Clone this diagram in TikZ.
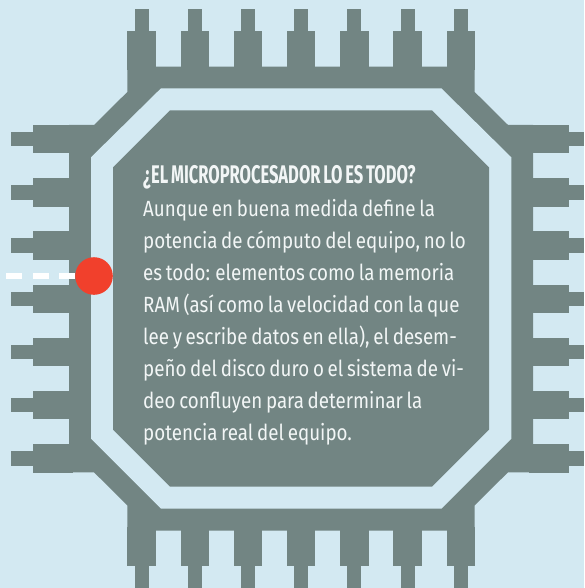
\documentclass[tikz,border=0pt]{standalone}
\usepackage{fontspec}
\setmainfont[FakeStretch=0.853,WordSpace=0.75]{Fira Sans}
\newfontfamily\headfont[FakeStretch=0.648,WordSpace=0.7]{Fira Sans}
\definecolor{bgblue}{HTML}{D3E9F2}
\definecolor{chipgrey}{HTML}{728583}
\definecolor{dotred}{HTML}{F1402C}
\definecolor{txtwhite}{HTML}{F2F6F6}
\tikzset{
  chip/.style={fill=chipgrey,draw=none},
  gap/.style={fill=bgblue,draw=none},
  textline/.style={inner sep=0pt,anchor=north west,align=left,text=txtwhite},
  reddot/.style={circle,fill=dotred,draw=none,minimum size=37.6pt,inner sep=0pt},
  whitedash/.style={draw=white,line width=5.2pt,dash pattern=on 16pt off 10.6pt}
}
\begin{document}
\begin{tikzpicture}[x=1pt,y=-1pt]
\useasboundingbox (0,0) rectangle (584,588);
\fill[bgblue] (0,0) rectangle (584,588);
% body of the package
\path[chip] (127.3,66.7) -- (474.7,66.7) -- (474.7,92) -- (508,125) -- (533,125) -- (533,472.3)
  -- (508,472.3) -- (474.7,505.3) -- (474.7,530.7) -- (127.3,530.7) -- (127.3,505.3)
  -- (94,472.3) -- (69,472.3) -- (69,125) -- (94,125) -- (127.3,92) -- cycle;
% pins
\foreach \i in {0,...,6}{
  \pgfmathsetmacro{\px}{127.3+53.2*\i}
  \pgfmathsetmacro{\py}{125+53.2*\i}
  \path[chip] (\px,31) rectangle ({\px+28.4},70);
  \path[chip] ({\px+7.3},9) rectangle ({\px+21.3},35);
  \path[chip] (\px,527) rectangle ({\px+28.4},566.3);
  \path[chip] ({\px+7.3},562) rectangle ({\px+21.3},588);
  \path[chip] (33.3,\py) rectangle (73,{\py+28.3});
  \path[chip] (11.3,{\py+7}) rectangle (37,{\py+21.3});
  \path[chip] (529,\py) rectangle (568.7,{\py+28.3});
  \path[chip] (565,{\py+7}) rectangle (584,{\py+21.3});
}
% ring
\path[gap] (161,88.3) -- (441.3,88.3) -- (511.3,157.3) -- (511.3,438.7) -- (441.3,508.7)
  -- (161,508.7) -- (91,438.7) -- (91,157.3) -- cycle;
% die
\path[chip] (170,110.3) -- (432,110.3) -- (489,167.3) -- (489,429.7) -- (432,486.7)
  -- (170,486.7) -- (113,429.7) -- (113,167.3) -- cycle;
% marker
\coordinate (dashstart) at (6,276);
\node[reddot] (dot) at (94,276) {};
\draw[whitedash] (dashstart) -- (dot.west);
% text
\node[textline,font=\fontsize{25.5}{32}\selectfont\headfont\bfseries] (title) at (143,165) {¿EL MICROPROCESADOR LO ES TODO?};
\node[textline,font=\fontsize{22}{31.95}\selectfont] (body) at (143,199.5) {
Aunque en buena medida define la\\
potencia de cómputo del equipo, no lo\\
es todo: elementos como la memoria\\
RAM (así como la velocidad con la que\\
lee y escribe datos en ella), el desem-\\
peño del disco duro o el sistema de vi-\\
deo confluyen para determinar la\\
potencia real del equipo.};
\end{tikzpicture}
\end{document}
